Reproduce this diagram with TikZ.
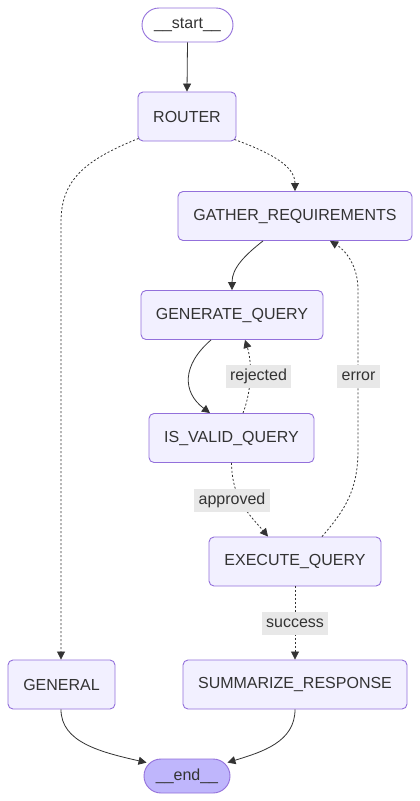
\documentclass[tikz,border=0pt]{standalone}
\usepackage{fontspec}
\setmainfont{Liberation Sans}
\usetikzlibrary{arrows.meta}
\definecolor{nodefill}{HTML}{F2F0FF}
\definecolor{nodeline}{HTML}{9370DB}
\definecolor{endfill}{HTML}{BFB6FC}
\definecolor{ink}{HTML}{333333}
\definecolor{labelbg}{HTML}{E8E8E8}
\tikzset{
  box/.style={draw=nodeline, fill=nodefill, line width=0.9pt, rounded corners=5pt,
    inner sep=0pt, text=ink, font=\fontsize{16}{19}\selectfont, minimum height=49pt},
  pill/.style={draw=nodeline, line width=0.9pt, rounded corners=17pt, inner sep=0pt,
    text=ink, font=\fontsize{16}{19}\selectfont, minimum height=34pt},
  elabel/.style={fill=labelbg, inner sep=0pt, text=ink, font=\fontsize{16}{19}\selectfont,
    minimum height=23pt},
  edge/.style={draw=ink, line width=0.8pt, -{Triangle[length=8pt,width=8pt]}},
  dotedge/.style={edge, dash pattern=on 2pt off 2pt}
}
\begin{document}
\begin{tikzpicture}[x=1pt,y=-1pt]
\useasboundingbox[fill=white] (0,0) rectangle (420,801);
% nodes
\node[pill, fill=white, minimum width=91pt] (start) at (187.5,25) {\_\_start\_\_};
\node[box, minimum width=98pt] (router) at (187,116.5) {ROUTER};
\node[box, minimum width=234pt] (gather) at (295,216) {GATHER\_REQUIREMENTS};
\node[box, minimum width=182pt] (generate) at (232,315) {GENERATE\_QUERY};
\node[box, minimum width=165pt] (valid) at (231.5,438) {IS\_VALID\_QUERY};
\node[box, minimum width=172pt] (execute) at (295,561.5) {EXECUTE\_QUERY};
\node[box, minimum width=107pt] (general) at (61.5,684.5) {GENERAL};
\node[box, minimum width=224pt] (summ) at (295,684.5) {SUMMARIZE\_RESPONSE};
\node[pill, fill=endfill, minimum width=86pt] (end) at (187,776) {\_\_end\_\_};
% edges
\draw[edge] (start.south) -- (router.north);
\draw[dotedge] ([xshift=-2pt,yshift=2pt]router.south east) .. controls (268,152) and (295,165) .. (gather.north);
\draw[dotedge] ([xshift=1pt,yshift=3pt]router.south west) .. controls (85,160) and (61,180) .. (61,222) -- (general.north -| 61,0);
\draw[edge] ([xshift=-32pt]gather.south) .. controls (245,255) and (232,268) .. (generate.north);
\draw[edge] ([xshift=-21pt]generate.south) .. controls (182,365) and (182,392) .. ([xshift=-21.5pt]valid.north);
\draw[dotedge] ([xshift=11.5pt]valid.north) .. controls (252,390) and (252,362) .. ([xshift=13pt]generate.south);
\draw[dotedge] (valid.south) .. controls (232,500) and (250,515) .. ([xshift=-27pt]execute.north);
\draw[dotedge] ([xshift=27pt]execute.north) .. controls (345,510) and (358,490) .. (358,450) -- (358,290) .. controls (358,265) and (345,250) .. ([xshift=35pt]gather.south);
\draw[dotedge] (execute.south) -- (summ.north);
\draw[edge] ([xshift=-0.5pt]general.south) .. controls (61,742) and (100,752) .. ([xshift=3pt,yshift=-4pt]end.north west);
\draw[edge] (summ.south) .. controls (295,742) and (262,752) .. ([xshift=-3pt,yshift=-4pt]end.north east);
% edge labels
\node[elabel, minimum width=65pt] (lrej) at (258.5,376.5) {rejected};
\node[elabel, minimum width=43pt] (lerr) at (358.5,376.5) {error};
\node[elabel, minimum width=76pt] (lapp) at (232,500) {approved};
\node[elabel, minimum width=66pt] (lsuc) at (295,623.5) {success};
\end{tikzpicture}
\end{document}
